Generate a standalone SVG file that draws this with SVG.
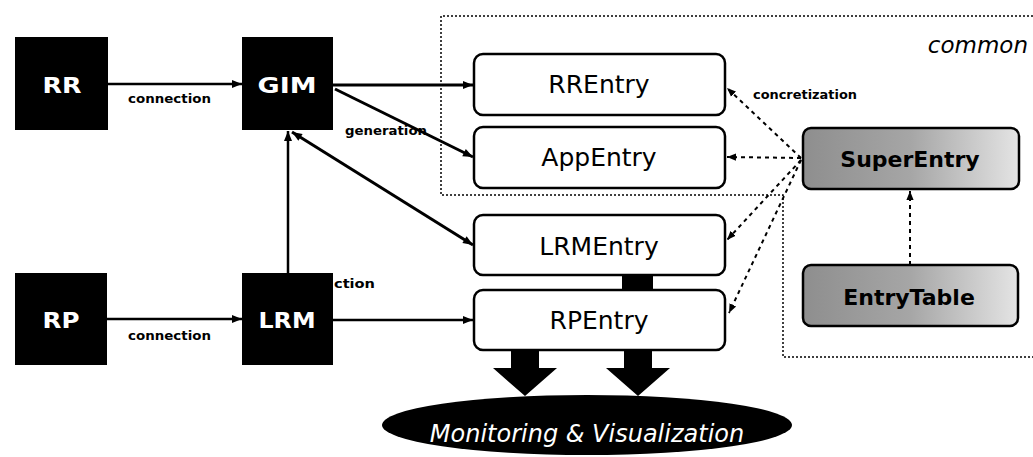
<svg xmlns="http://www.w3.org/2000/svg" width="1033" height="457" viewBox="0 0 1033 457">
<style>
.blk{fill:#000}
.wlab{fill:#fff;font-family:"DejaVu Sans",Verdana,sans-serif;font-weight:bold;font-size:22px;text-anchor:middle}
.ent{fill:#fff;stroke:#000;stroke-width:2.5}
.elab{fill:#000;font-family:"DejaVu Sans",Verdana,sans-serif;font-size:25px;text-anchor:middle}
.gent{stroke:#000;stroke-width:2.5}
.glab{fill:#000;font-family:"DejaVu Sans",Verdana,sans-serif;font-weight:bold;font-size:22px;text-anchor:middle}
.ln{fill:none;stroke:#000;stroke-width:3}
.ln2{fill:none;stroke:#000;stroke-width:2.5}
.dot{fill:none;stroke:#000;stroke-width:2;stroke-dasharray:4 4}
.bound{fill:none;stroke:#000;stroke-width:1.5;stroke-dasharray:2 2}
.small{fill:#000;font-family:"DejaVu Sans",Verdana,sans-serif;font-weight:bold;font-size:13px}
</style>
<defs>
<marker id="ah" viewBox="0 0 10 10" refX="10" refY="5" markerWidth="11" markerHeight="10" markerUnits="userSpaceOnUse" orient="auto-start-reverse">
<path d="M0,1 L10,5 L0,9 z" fill="#000"/>
</marker>
<marker id="ahs" viewBox="0 0 10 10" refX="10" refY="5" markerWidth="9" markerHeight="9" markerUnits="userSpaceOnUse" orient="auto">
<path d="M0,1 L10,5 L0,9 z" fill="#000"/>
</marker>
<linearGradient id="gray" x1="0" y1="0" x2="1" y2="0">
<stop offset="0" stop-color="#8e8e8e"/>
<stop offset="0.5" stop-color="#a6a6a6"/>
<stop offset="1" stop-color="#e4e4e4"/>
</linearGradient>
</defs>

<polyline class="bound" points="1033,16 441,16 441,195 783,195 783,357 1033,357"/>
<text x="1028" y="53" font-family="'DejaVu Sans',Verdana,sans-serif" font-style="italic" font-size="23" text-anchor="end" fill="#000">common</text>

<g id="connectors">
<line class="ln2" x1="108" y1="84" x2="242" y2="84" marker-end="url(#ah)"/>
<text class="small" x="128" y="103" textLength="83" lengthAdjust="spacingAndGlyphs">connection</text>
<line class="ln" x1="333" y1="85" x2="473" y2="85" marker-end="url(#ah)"/>
<line class="ln" x1="335" y1="89" x2="473" y2="157" marker-end="url(#ah)"/>
<text class="small" x="345" y="135" textLength="82" lengthAdjust="spacingAndGlyphs">generation</text>
<line class="ln" x1="292" y1="132" x2="473" y2="245" marker-start="url(#ah)" marker-end="url(#ah)"/>
<line class="ln2" x1="288" y1="273" x2="288" y2="131" marker-end="url(#ah)"/>
<line class="ln2" x1="107" y1="319" x2="242" y2="319" marker-end="url(#ah)"/>
<text class="small" x="128" y="340" textLength="83" lengthAdjust="spacingAndGlyphs">connection</text>
<text class="small" x="334" y="288" textLength="41" lengthAdjust="spacingAndGlyphs">ction</text>
<line class="ln2" x1="333" y1="320" x2="473" y2="320" marker-end="url(#ah)"/>
<line class="dot" x1="801" y1="158" x2="727" y2="88" marker-end="url(#ahs)"/>
<text class="small" x="753" y="99" textLength="104" lengthAdjust="spacingAndGlyphs">concretization</text>
<line class="dot" x1="801" y1="158" x2="727" y2="157" marker-end="url(#ahs)"/>
<line class="dot" x1="801" y1="160" x2="727" y2="240" marker-end="url(#ahs)"/>
<line class="dot" x1="801" y1="160" x2="729" y2="313" marker-end="url(#ahs)"/>
<line class="dot" x1="910" y1="265" x2="910" y2="191" marker-end="url(#ahs)"/>
<rect class="blk" x="622" y="274" width="31" height="17"/>
<polygon class="blk" points="511,350 539,350 539,368 557,368 525,396 493,368 511,368"/>
<polygon class="blk" points="624,350 652,350 652,368 670,368 638,396 606,368 624,368"/>
</g>

<g id="RR"><rect class="blk" x="15" y="37" width="93" height="93"/><text class="wlab" x="62" y="93" textLength="39" lengthAdjust="spacingAndGlyphs">RR</text></g>
<g id="GIM"><rect class="blk" x="242" y="37" width="91" height="93"/><text class="wlab" x="287" y="93" textLength="59" lengthAdjust="spacingAndGlyphs">GIM</text></g>
<g id="RP"><rect class="blk" x="15" y="273" width="92" height="92"/><text class="wlab" x="61" y="328" textLength="37" lengthAdjust="spacingAndGlyphs">RP</text></g>
<g id="LRM"><rect class="blk" x="242" y="273" width="91" height="92"/><text class="wlab" x="287" y="328" textLength="57" lengthAdjust="spacingAndGlyphs">LRM</text></g>

<g id="RREntry"><rect class="ent" x="474" y="54" width="251" height="61" rx="9"/><text class="elab" x="599" y="93">RREntry</text></g>
<g id="AppEntry"><rect class="ent" x="474" y="127" width="251" height="61" rx="9"/><text class="elab" x="599" y="166">AppEntry</text></g>
<g id="LRMEntry"><rect class="ent" x="474" y="215" width="251" height="60" rx="9"/><text class="elab" x="599" y="255">LRMEntry</text></g>
<g id="RPEntry"><rect class="ent" x="474" y="290" width="251" height="60" rx="9"/><text class="elab" x="599" y="329">RPEntry</text></g>

<g id="SuperEntry"><rect class="gent" x="803" y="128" width="216" height="61" rx="8" fill="url(#gray)"/><text class="glab" x="910" y="167">SuperEntry</text></g>
<g id="EntryTable"><rect class="gent" x="803" y="265" width="215" height="61" rx="8" fill="url(#gray)"/><text class="glab" x="909" y="305">EntryTable</text></g>

<g id="Monitoring"><ellipse class="blk" cx="587" cy="425" rx="205" ry="30"/><text x="587" y="442" fill="#fff" font-family="'DejaVu Sans',Verdana,sans-serif" font-style="italic" font-size="24" text-anchor="middle">Monitoring &amp; Visualization</text></g>
</svg>
